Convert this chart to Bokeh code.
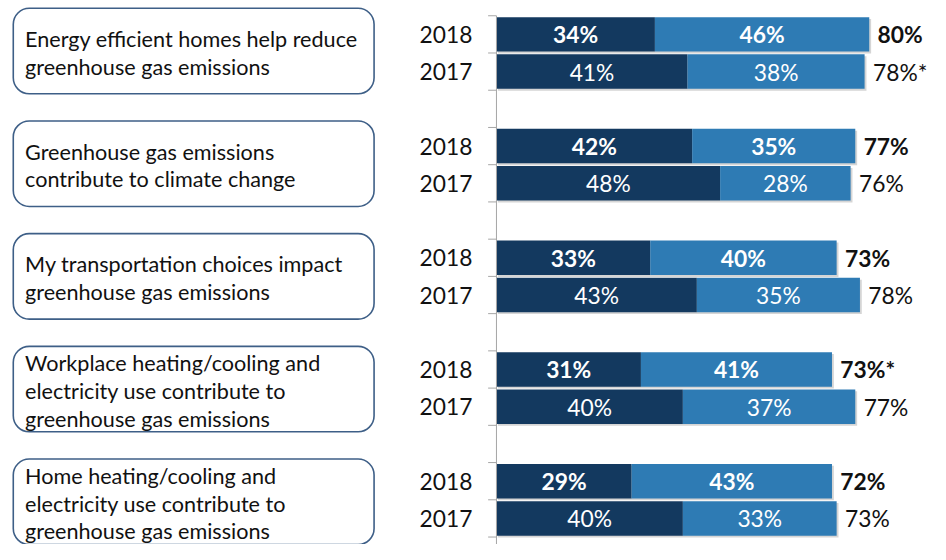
from bokeh.plotting import figure
from bokeh.models import Range1d, ColumnDataSource
from bokeh.core.properties import value
from bokeh.transform import dodge
from bokeh.embed import file_html
from bokeh.resources import INLINE

# ---------------- data ----------------
statements = [
    "Energy efficient homes help reduce\ngreenhouse gas emissions",
    "Greenhouse gas emissions\ncontribute to climate change",
    "My transportation choices impact\ngreenhouse gas emissions",
    "Workplace heating/cooling and\nelectricity use contribute to\ngreenhouse gas emissions",
    "Home heating/cooling and\nelectricity use contribute to\ngreenhouse gas emissions",
]
years = ["2018", "2017"]
strong_2018 = [34, 42, 33, 31, 29]
some_2018 = [46, 35, 40, 41, 43]
total_2018 = ["80%", "77%", "73%", "73%*", "72%"]
strong_2017 = [41, 48, 43, 40, 40]
some_2017 = [38, 28, 35, 37, 33]
total_2017 = ["78%*", "76%", "78%", "77%", "73%"]

# ---------------- layout (reference pixel units) ----------------
DARK = "#13395f"
LIGHT = "#2e7bb4"
FONT = "Lato"
RW, RH = 946, 560            # reference frame
W, H = 930, 544              # canvas
SX, SY = W / RW, H / RH
ZERO_PX = 504.5              # ref px of 0 %
PX_PER_PCT = 4.74
SLOT = 38.33                 # ref px per row slot
SLOT0 = 34.87                # ref px of slot-0 centre
NUM_FS = f"{23.5 * SY:.1f}px"
BOX_FS = f"{22.2 * SY:.1f}px"

p = figure(width=W, height=H, output_backend="svg", toolbar_location=None,
           x_axis_type=None, y_axis_type=None, min_border=0,
           x_range=Range1d(-ZERO_PX / PX_PER_PCT, (RW - ZERO_PX) / PX_PER_PCT),
           y_range=Range1d((RH - SLOT0) / SLOT, -SLOT0 / SLOT))
p.outline_line_color = None
p.grid.visible = False
p.background_fill_color = "white"
p.border_fill_color = "white"
p.extra_x_ranges = {"px": Range1d(0, RW)}
p.extra_y_ranges = {"px": Range1d(RH, 0)}

# ---------------- rows ----------------
rows = dict(slot=[], strong=[], end=[], sl=[], ml=[], lab_s=[], lab_m=[], total=[], year=[])
kinds = []
for i in range(len(statements)):
    for j, (st, so, tt) in enumerate([(strong_2018[i], some_2018[i], total_2018[i]),
                                      (strong_2017[i], some_2017[i], total_2017[i])]):
        rows["slot"].append(3 * i + j)
        rows["strong"].append(st)
        rows["end"].append(st + so)
        rows["sl"].append(st / 2)
        rows["ml"].append(st + so / 2)
        rows["lab_s"].append(f"{st}%")
        rows["lab_m"].append(f"{so}%")
        rows["total"].append(tt)
        rows["year"].append(years[j])
        kinds.append(j)
src = ColumnDataSource(rows)

BAR_H = 35.5 / SLOT
# soft drop shadow
p.hbar(y=dodge("slot", 0.05), left=0.3, right=dodge("end", 0.4), height=BAR_H, source=src,
       fill_color="#b3b3b3", fill_alpha=0.55, line_color=None)
p.hbar(y="slot", left=0, right="strong", height=BAR_H, source=src,
       fill_color=DARK, line_color=None)
p.hbar(y="slot", left="strong", right="end", height=BAR_H, source=src,
       fill_color=LIGHT, line_color=None)

# labels: bold for 2018 rows, regular for 2017 rows
for j, style in enumerate(["bold", "normal"]):
    idx = [n for n, k in enumerate(kinds) if k == j]
    sub = ColumnDataSource({k: [v[n] for n in idx] for k, v in rows.items()})
    common = dict(source=sub, text_font=value(FONT), text_font_size=NUM_FS, text_baseline="middle")
    p.text(x="sl", y="slot", text="lab_s", text_color="white", text_font_style=style,
           text_align="center", **common)
    p.text(x="ml", y="slot", text="lab_m", text_color="white", text_font_style=style,
           text_align="center", **common)
    p.text(x="end", y="slot", text="total", text_color="#111111", text_font_style=style,
           text_align="left", x_offset=8.5 * SX, **common)
    p.text(x=480, y="slot", text="year", text_color="#111111",
           text_align="right", x_range_name="px", **common)

# axis line with ticks at slot boundaries
n_slots = 3 * len(statements)
p.segment(x0=0, y0=-0.5, x1=0, y1=n_slots, line_color="#a6a6a6", line_width=1)
bounds = [k - 0.5 for k in range(n_slots + 1)]
p.segment(x0=-8.5 / PX_PER_PCT, y0=bounds, x1=0, y1=bounds, line_color="#a6a6a6", line_width=1)

# ---------------- statement boxes ----------------
BOX_TOP0, BOX_STEP, BOX_H = 8, 116, 88
tops = [BOX_TOP0 + BOX_STEP * i for i in range(len(statements))]
p.quad(left=13, right=380, top=tops, bottom=[t + BOX_H for t in tops],
       fill_color="white", line_color="#3e5f87", line_width=1.6, border_radius=16,
       x_range_name="px", y_range_name="px")
lx, ly = [], []
for t, s in zip(tops, statements):
    lines = s.split("\n")
    n = len(lines)
    for k, ln in enumerate(lines):
        lx.append(ln)
        ly.append(t + 46 + (k - (n - 1) / 2) * 28.5)
p.text(x=25, y=ly, text=lx, text_color="#111111",
       text_font=value(FONT), text_font_size=BOX_FS,
       text_align="left", text_baseline="middle", x_range_name="px", y_range_name="px")

open("out.html", "w").write(file_html(p, INLINE))
